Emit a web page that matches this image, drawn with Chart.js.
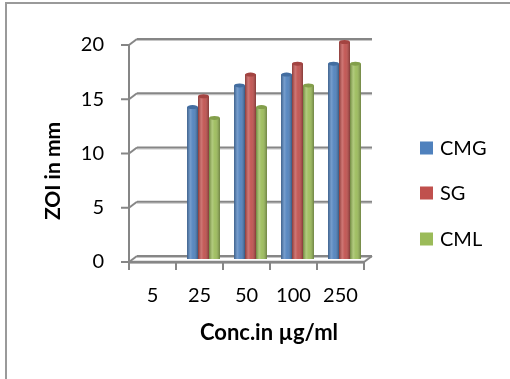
<!DOCTYPE html>
<html>
<head>
<meta charset="utf-8">
<script src="https://cdn.jsdelivr.net/npm/chart.js@4"></script>
<style>
  body { margin: 0; background: #fff; width: 510px; height: 379px; overflow: hidden; position: relative; }
  #frame { position: absolute; left: 5px; top: 2px; width: 600px; height: 500px;
           border-left: 2px solid #9a9a9a; border-top: 2px solid #9a9a9a; }
  #zoiChart { position: absolute; left: 0; top: 0; }
</style>
</head>
<body>
<div id="frame"></div>
<canvas id="zoiChart" width="510" height="379"></canvas>
<script>
// concentrations (µg/ml) and zone of inhibition (mm) per extract
const concLabels = ['5', '25', '50', '100', '250'];
const cmgValues = [0, 14, 16, 17, 18];
const sgValues = [0, 15, 17, 18, 20];
const cmlValues = [0, 13, 14, 16, 18];
const yTicks = [0, 5, 10, 15, 20];

const FONT = 'Lato, "Open Sans", sans-serif';
const DEPTH = { x: 8, y: -6 }; // offset of the back wall
const GRID = '#868686';
const GRID_LIGHT = '#c6c6c6';

function line(ctx, x1, y1, x2, y2, color, w) {
  ctx.strokeStyle = color;
  ctx.lineWidth = w;
  ctx.beginPath();
  ctx.moveTo(x1, y1);
  ctx.lineTo(x2, y2);
  ctx.stroke();
}

// fake 3D walls, cylinder shading, titles and legend
const box3d = {
  id: 'box3d',
  beforeDatasetsDraw(chart) {
    const { ctx, chartArea: a, scales: { y } } = chart;
    ctx.save();
    // back wall gridlines + left wall diagonals
    yTicks.forEach(v => {
      const py = y.getPixelForValue(v);
      line(ctx, a.left + DEPTH.x, py + DEPTH.y + 1.5, a.right + DEPTH.x, py + DEPTH.y + 1.5, GRID_LIGHT, 1);
      line(ctx, a.left + DEPTH.x, py + DEPTH.y, a.right + DEPTH.x, py + DEPTH.y, GRID, 2);
      line(ctx, a.left, py, a.left + DEPTH.x, py + DEPTH.y, GRID, 2);
      line(ctx, a.left - 8, py, a.left, py, GRID, 2);
    });
    ctx.restore();
    // bars sit halfway into the depth
    ctx.save();
    ctx.translate(DEPTH.x / 2, DEPTH.y / 2);
  },
  afterDatasetsDraw(chart) {
    const { ctx, chartArea: a, scales: { x } } = chart;
    chart.data.datasets.forEach((ds, di) => {
      chart.getDatasetMeta(di).data.forEach((bar, i) => {
        if (!ds.data[i]) return;
        const { x: cx, y: top, base, width } = bar.getProps(['x', 'y', 'base', 'width'], true);
        const l = cx - width / 2;
        const g = ctx.createLinearGradient(l, 0, l + width, 0);
        g.addColorStop(0, 'rgba(0,0,0,0.28)');
        g.addColorStop(0.3, 'rgba(255,255,255,0.22)');
        g.addColorStop(0.55, 'rgba(255,255,255,0.05)');
        g.addColorStop(1, 'rgba(0,0,0,0.32)');
        ctx.fillStyle = g;
        ctx.fillRect(l, top, width, base - top);
        // top cap
        ctx.fillStyle = ds.backgroundColor;
        ctx.beginPath();
        ctx.ellipse(cx, top, width / 2, 2, 0, 0, Math.PI * 2);
        ctx.fill();
        ctx.fillStyle = 'rgba(0,0,0,0.15)';
        ctx.fill();
      });
    });
    ctx.restore();

    ctx.save();
    // front axis, floor and ticks
    line(ctx, a.left, a.top, a.left, a.bottom, GRID, 2);
    line(ctx, a.left, a.bottom + 1.5, a.right, a.bottom + 1.5, GRID_LIGHT, 1);
    line(ctx, a.left, a.bottom, a.right, a.bottom, GRID, 2.5);
    line(ctx, a.right, a.bottom, a.right + DEPTH.x, a.bottom + DEPTH.y, GRID, 2);
    const half = (x.getPixelForValue(1) - x.getPixelForValue(0)) / 2;
    for (let i = 0; i <= concLabels.length; i++) {
      const px = x.getPixelForValue(0) - half + i * half * 2;
      line(ctx, px, a.bottom, px, a.bottom + 8, GRID, 2);
    }

    // axis titles
    ctx.fillStyle = '#000';
    ctx.textAlign = 'center';
    ctx.textBaseline = 'middle';
    ctx.font = 'bold 22px ' + FONT;
    ctx.fillText('Conc.in µg/ml', 269, 333);
    ctx.save();
    ctx.font = 'bold 21px ' + FONT;
    ctx.translate(53, 171);
    ctx.rotate(-Math.PI / 2);
    ctx.fillText('ZOI in mm', 0, 0);
    ctx.restore();

    // legend
    const legendY = [148, 193, 239];
    ctx.font = '20px ' + FONT;
    ctx.textAlign = 'left';
    chart.data.datasets.forEach((ds, di) => {
      ctx.fillStyle = ds.backgroundColor;
      ctx.fillRect(420, legendY[di] - 6.5, 13, 13);
      ctx.fillStyle = '#000';
      ctx.fillText(ds.label, 440, legendY[di] + 1);
    });
    ctx.restore();
  }
};

const ctx = document.getElementById('zoiChart').getContext('2d');
new Chart(ctx, {
  type: 'bar',
  data: {
    labels: concLabels,
    datasets: [
      { label: 'CMG', data: cmgValues, backgroundColor: '#4f81bd' },
      { label: 'SG', data: sgValues, backgroundColor: '#c0504d' },
      { label: 'CML', data: cmlValues, backgroundColor: '#9bbb59' }
    ]
  },
  options: {
    responsive: false,
    animation: false,
    devicePixelRatio: 1,
    categoryPercentage: 0.7,
    barPercentage: 1.0,
    layout: { padding: { left: 0, top: 45, right: 146, bottom: 0 } },
    plugins: { legend: { display: false }, tooltip: { enabled: false } },
    scales: {
      x: {
        grid: { display: false, drawTicks: false },
        border: { display: false },
        ticks: { color: '#000', font: { family: FONT, size: 20 }, padding: 22, maxRotation: 0 },
        afterFit(scale) { scale.height = 117; }
      },
      y: {
        min: 0,
        max: 20,
        grid: { display: false, drawTicks: false },
        border: { display: false },
        ticks: { stepSize: 5, color: '#000', font: { family: FONT, size: 20 }, padding: 25 },
        afterFit(scale) { scale.width = 129; }
      }
    }
  },
  plugins: [box3d]
});
</script>
</body>
</html>
